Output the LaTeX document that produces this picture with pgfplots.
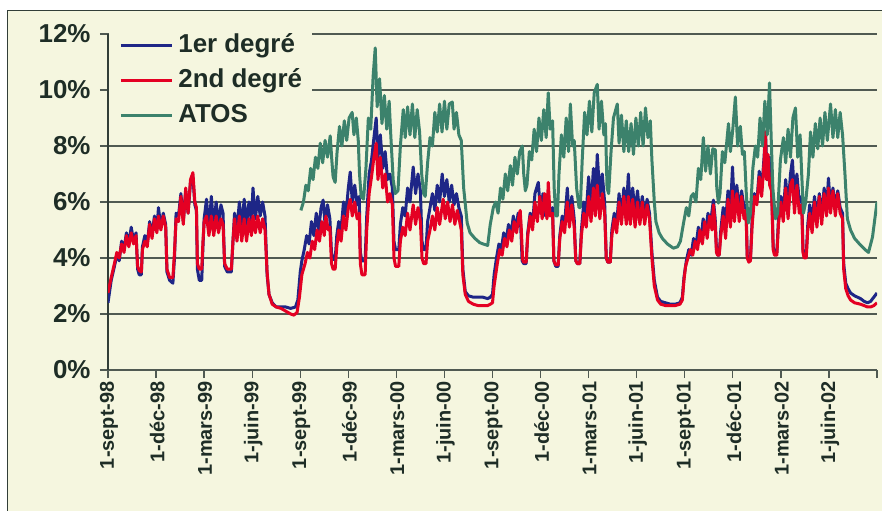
\documentclass[border=0pt]{standalone}
\usepackage{pgfplots}
\pgfplotsset{compat=1.18}
\usepackage{pgfplotstable}
\usepackage{fontspec}
\setmainfont{Liberation Sans}
\definecolor{bg}{RGB}{245,246,223}
\definecolor{cA}{RGB}{30,38,135}
\definecolor{cB}{RGB}{228,0,35}
\definecolor{cC}{RGB}{60,130,108}
\definecolor{txt}{RGB}{30,45,38}
\definecolor{gridc}{RGB}{80,90,82}
\definecolor{framec}{RGB}{50,62,56}

\pgfplotstableread{
x y
0.00 2.4
0.20 3.2
0.40 3.7
0.55 4.1
0.70 3.9
0.85 4.6
1.00 4.3
1.15 4.9
1.30 4.5
1.45 5.1
1.60 4.6
1.75 4.9
1.85 3.6
1.95 3.4
2.08 3.4
2.15 4.4
2.30 4.8
2.45 4.5
2.60 5.3
2.75 4.8
2.90 5.5
3.05 5.0
3.15 5.8
3.30 5.1
3.45 5.6
3.60 5.2
3.68 3.5
3.85 3.2
4.05 3.1
4.15 4.0
4.25 5.6
4.40 5.5
4.55 6.3
4.70 5.3
4.85 6.4
5.00 5.6
5.15 6.7
5.30 6.9
5.42 5.9
5.52 5.7
5.58 3.6
5.70 3.2
5.85 3.2
5.92 4.3
6.00 5.4
6.15 6.1
6.30 5.0
6.45 6.2
6.60 5.1
6.75 6.0
6.90 5.2
7.05 5.9
7.18 5.6
7.28 3.7
7.45 3.5
7.70 3.5
7.80 4.6
7.90 5.6
8.05 5.0
8.20 6.0
8.35 5.1
8.50 6.1
8.65 5.2
8.80 6.0
8.95 5.3
9.05 6.5
9.20 5.4
9.35 6.2
9.50 5.5
9.65 6.0
9.80 5.5
9.93 3.4
10.05 2.7
10.25 2.4
10.50 2.25
10.80 2.25
11.10 2.25
11.40 2.2
11.70 2.25
11.85 2.5
12.00 3.5
12.10 3.9
12.25 4.3
12.40 4.8
12.55 4.5
12.70 5.3
12.85 4.8
13.00 5.6
13.15 5.0
13.30 5.8
13.43 6.07
13.55 5.2
13.70 5.9
13.85 5.4
13.95 4.2
14.05 3.95
14.18 3.95
14.28 4.8
14.40 5.3
14.55 5.0
14.70 6.0
14.85 5.5
15.00 6.5
15.12 7.07
15.25 6.0
15.40 6.6
15.55 5.9
15.68 6.2
15.75 4.2
15.85 3.9
16.05 3.9
16.15 5.5
16.30 7.0
16.45 7.5
16.60 8.3
16.74 9.0
16.85 7.6
17.00 8.4
17.15 7.2
17.30 7.8
17.45 6.8
17.60 7.0
17.75 6.5
17.85 4.6
17.95 4.3
18.15 4.3
18.25 5.2
18.40 5.8
18.55 5.5
18.70 6.5
18.85 6.0
19.05 7.25
19.20 6.3
19.35 7.0
19.50 6.4
19.60 4.6
19.70 4.3
19.85 4.3
19.95 5.3
20.10 5.8
20.25 6.3
20.40 5.7
20.55 6.6
20.70 6.0
20.86 7.0
21.00 6.2
21.15 6.8
21.30 6.0
21.45 6.6
21.60 5.9
21.75 6.3
21.90 5.8
22.05 5.5
22.15 3.6
22.30 2.8
22.50 2.65
22.80 2.6
23.10 2.6
23.40 2.6
23.70 2.55
23.86 2.6
24.00 2.7
24.10 3.4
24.25 4.0
24.40 4.5
24.55 4.3
24.70 4.9
24.85 4.6
25.00 5.2
25.15 4.8
25.30 5.5
25.45 5.0
25.60 5.6
25.75 5.3
25.85 3.9
25.95 3.8
26.10 3.8
26.20 4.9
26.35 5.6
26.50 5.2
26.65 6.3
26.86 6.7
27.00 5.6
27.15 6.3
27.30 5.5
27.45 6.2
27.60 5.6
27.75 5.8
27.83 3.9
27.95 3.7
28.10 3.7
28.20 4.8
28.35 5.5
28.50 5.2
28.67 6.5
28.80 5.3
28.95 6.2
29.10 5.4
29.20 3.9
29.30 3.8
29.45 3.8
29.55 5.0
29.70 6.0
29.85 5.6
30.00 6.9
30.15 5.8
30.30 7.2
30.42 6.0
30.54 7.7
30.70 6.2
30.85 7.0
31.00 6.0
31.10 4.0
31.20 3.85
31.35 3.85
31.45 5.0
31.60 5.6
31.75 5.2
31.90 6.3
32.05 5.5
32.20 6.5
32.35 5.6
32.48 7.0
32.60 5.6
32.75 6.5
32.90 5.6
33.05 6.4
33.20 5.5
33.35 6.2
33.50 5.5
33.65 6.1
33.80 5.6
33.95 4.2
34.10 3.2
34.30 2.6
34.50 2.45
34.80 2.4
35.10 2.35
35.40 2.35
35.70 2.4
35.85 2.6
35.95 3.3
36.10 3.9
36.25 4.3
36.40 4.1
36.55 4.7
36.70 4.4
36.85 5.1
37.00 4.6
37.15 5.4
37.30 4.9
37.45 5.6
37.60 5.2
37.79 6.07
37.90 5.4
37.98 4.3
38.05 4.1
38.15 4.1
38.25 5.0
38.40 5.8
38.55 5.3
38.70 6.4
38.85 5.6
38.98 7.25
39.10 5.8
39.25 6.6
39.40 5.7
39.55 6.4
39.70 5.8
39.82 5.9
39.90 4.1
40.00 3.93
40.10 3.95
40.20 5.3
40.35 6.3
40.50 6.0
40.65 7.1
40.80 6.4
40.95 7.6
41.04 8.5
41.15 6.8
41.30 7.6
41.42 6.6
41.52 4.4
41.60 4.2
41.75 4.2
41.85 5.4
42.00 6.2
42.15 5.6
42.30 6.8
42.45 5.8
42.60 7.0
42.72 7.5
42.85 6.2
43.00 7.0
43.15 6.0
43.30 6.2
43.38 4.3
43.45 4.1
43.58 4.1
43.68 5.2
43.80 5.9
43.95 5.3
44.10 6.2
44.25 5.4
44.40 6.3
44.55 5.5
44.70 6.5
44.85 5.7
44.97 6.85
45.10 5.8
45.25 6.5
45.40 5.8
45.55 6.4
45.70 5.8
45.85 5.6
45.92 3.8
46.05 3.1
46.20 2.9
46.35 2.75
46.60 2.65
46.97 2.55
47.20 2.45
47.41 2.4
47.60 2.45
47.80 2.6
48.00 2.75
}\tblA

\pgfplotstableread{
x y
0.00 2.75
0.20 3.3
0.40 3.8
0.55 4.2
0.70 4.0
0.85 4.5
1.00 4.2
1.15 4.8
1.30 4.4
1.45 4.9
1.60 4.5
1.75 4.8
1.85 3.7
1.95 3.55
2.08 3.5
2.15 4.3
2.30 4.6
2.45 4.4
2.60 5.2
2.75 4.7
2.90 5.4
3.05 4.9
3.15 5.5
3.30 5.0
3.45 5.5
3.60 5.1
3.68 3.6
3.85 3.3
4.05 3.3
4.15 4.2
4.25 5.4
4.40 5.3
4.55 6.2
4.70 5.2
4.85 6.5
5.00 5.6
5.15 6.8
5.30 7.05
5.42 6.0
5.52 5.8
5.58 3.8
5.70 3.6
5.85 3.6
5.92 4.5
6.00 5.3
6.15 5.5
6.30 4.8
6.45 5.5
6.60 4.8
6.75 5.5
6.90 4.9
7.05 5.4
7.18 5.2
7.28 3.8
7.45 3.6
7.70 3.6
7.80 4.6
7.90 5.4
8.05 4.6
8.20 5.5
8.35 4.6
8.50 5.4
8.65 4.6
8.80 5.4
8.95 4.8
9.05 5.5
9.20 4.9
9.35 5.5
9.50 4.9
9.65 5.4
9.80 5.0
9.93 3.5
10.05 2.7
10.25 2.35
10.50 2.25
10.80 2.2
11.10 2.1
11.40 2.0
11.60 1.96
11.80 2.05
11.95 2.6
12.10 3.4
12.30 3.8
12.45 4.2
12.60 4.0
12.75 4.6
12.90 4.3
13.05 5.0
13.20 4.6
13.35 5.3
13.50 4.8
13.60 5.5
13.75 5.0
13.85 5.1
13.95 3.8
14.05 3.6
14.18 3.6
14.28 4.4
14.40 5.0
14.55 4.6
14.70 5.5
14.85 5.0
15.00 5.8
15.12 6.1
15.25 5.5
15.40 6.0
15.55 5.4
15.68 5.6
15.75 3.8
15.85 3.4
16.05 3.4
16.15 5.0
16.30 6.3
16.45 6.9
16.60 7.6
16.74 8.1
16.85 6.8
17.00 7.6
17.15 6.5
17.30 7.0
17.45 6.0
17.60 6.3
17.75 5.9
17.85 4.0
17.95 3.7
18.15 3.7
18.25 4.6
18.40 5.1
18.55 4.8
18.70 5.6
18.85 5.0
19.05 5.9
19.20 5.2
19.35 5.8
19.50 5.3
19.60 4.0
19.70 3.8
19.85 3.8
19.95 4.6
20.10 5.0
20.25 5.5
20.40 5.0
20.55 5.8
20.70 5.2
20.92 6.1
21.05 5.4
21.20 6.0
21.35 5.3
21.50 5.9
21.65 5.2
21.80 5.7
21.95 5.3
22.05 5.0
22.15 3.4
22.30 2.7
22.50 2.45
22.80 2.35
23.10 2.3
23.40 2.3
23.70 2.3
23.86 2.35
24.00 2.4
24.10 3.0
24.30 3.8
24.45 4.3
24.60 4.1
24.75 4.7
24.90 4.4
25.05 5.0
25.20 4.6
25.35 5.3
25.50 4.9
25.65 5.5
25.73 5.7
25.80 5.0
25.88 3.95
25.95 3.85
26.10 3.85
26.20 4.8
26.35 5.5
26.50 5.0
26.65 6.0
26.80 5.3
26.95 6.2
27.10 5.4
27.25 6.3
27.40 5.4
27.48 6.7
27.60 5.5
27.75 5.6
27.83 3.9
27.95 3.75
28.10 3.75
28.20 4.7
28.35 5.3
28.50 4.9
28.67 6.0
28.80 5.1
28.95 5.9
29.10 5.1
29.20 3.9
29.30 3.8
29.45 3.8
29.55 4.8
29.70 5.6
29.85 5.1
30.00 6.2
30.15 5.3
30.30 6.5
30.42 5.5
30.54 6.6
30.70 5.4
30.85 6.3
31.00 5.6
31.10 4.0
31.20 3.85
31.35 3.85
31.45 4.8
31.60 5.4
31.75 4.9
31.90 6.0
32.05 5.2
32.20 6.2
32.35 5.2
32.48 6.2
32.60 5.2
32.75 6.1
32.90 5.1
33.05 6.0
33.20 5.2
33.35 6.0
33.50 5.2
33.65 5.9
33.80 5.4
33.95 4.0
34.10 3.0
34.30 2.5
34.50 2.35
34.80 2.3
35.10 2.3
35.40 2.3
35.70 2.35
35.85 2.5
35.95 3.2
36.05 3.7
36.20 4.0
36.35 4.3
36.50 4.1
36.65 4.6
36.80 4.3
36.95 5.0
37.10 4.5
37.25 5.3
37.40 4.7
37.55 5.5
37.70 5.0
37.79 5.9
37.90 5.2
37.98 4.2
38.05 4.1
38.15 4.1
38.25 4.8
38.40 5.5
38.55 4.7
38.70 6.1
38.85 5.1
38.98 6.4
39.10 5.3
39.25 6.3
39.40 5.3
39.55 6.2
39.70 5.4
39.82 5.7
39.90 4.0
40.00 3.85
40.10 3.9
40.20 5.1
40.35 6.2
40.50 5.9
40.65 6.9
40.80 6.2
40.95 7.4
41.04 8.5
41.10 6.8
41.20 7.7
41.30 6.6
41.42 6.4
41.52 4.3
41.60 4.1
41.75 4.1
41.85 5.2
42.00 6.0
42.15 5.3
42.30 6.5
42.45 5.4
42.60 6.6
42.72 6.8
42.85 5.6
43.00 6.6
43.15 5.6
43.30 5.9
43.38 4.2
43.45 4.0
43.58 4.0
43.68 5.0
43.80 5.6
43.95 4.9
44.10 6.0
44.25 5.1
44.40 6.2
44.55 5.2
44.70 6.3
44.85 5.5
44.97 6.5
45.10 5.6
45.25 6.4
45.40 5.5
45.55 6.3
45.70 5.6
45.85 5.4
45.92 3.6
46.05 2.9
46.20 2.65
46.35 2.5
46.60 2.4
46.97 2.35
47.20 2.3
47.41 2.25
47.60 2.25
47.80 2.3
48.00 2.4
}\tblB

\pgfplotstableread{
x y
12.04 5.7
12.20 6.0
12.35 6.6
12.50 6.4
12.65 7.2
12.80 6.8
12.95 7.6
13.10 7.2
13.25 8.1
13.40 7.4
13.55 8.2
13.70 7.6
13.87 8.36
13.97 7.5
14.05 6.9
14.18 6.7
14.30 7.8
14.45 8.7
14.60 8.0
14.75 8.9
14.90 8.2
15.05 9.0
15.24 9.2
15.35 8.4
15.50 9.0
15.62 8.2
15.70 7.0
15.80 6.2
15.95 6.1
16.10 7.2
16.25 9.0
16.40 8.6
16.55 10.5
16.68 11.5
16.80 9.4
16.95 10.4
17.10 8.8
17.25 9.8
17.40 8.6
17.55 9.6
17.65 8.4
17.80 6.8
17.93 6.3
18.10 6.4
18.25 8.0
18.43 9.3
18.55 8.3
18.70 9.4
18.85 8.4
19.00 9.5
19.15 8.3
19.30 9.3
19.45 8.5
19.58 7.0
19.70 6.3
19.80 6.2
19.95 7.4
20.10 8.3
20.25 8.0
20.40 9.2
20.55 8.5
20.70 9.5
20.85 8.5
21.00 9.6
21.15 8.6
21.30 9.5
21.49 9.57
21.60 8.6
21.75 9.2
21.90 8.4
22.05 8.2
22.20 6.5
22.42 5.25
22.60 4.9
22.90 4.7
23.20 4.55
23.42 4.5
23.70 4.45
23.86 5.2
24.05 5.8
24.20 6.0
24.35 5.6
24.50 6.5
24.65 6.1
24.80 7.0
24.95 6.4
25.11 7.3
25.25 6.6
25.40 7.6
25.55 7.0
25.70 7.8
25.86 8.0
25.95 7.0
26.05 6.4
26.15 6.6
26.30 7.8
26.45 7.5
26.60 8.6
26.75 7.8
26.90 9.0
27.05 8.2
27.20 9.3
27.35 8.3
27.48 9.9
27.60 8.6
27.75 8.9
27.85 6.5
27.95 5.5
28.05 5.5
28.15 7.0
28.30 8.4
28.45 7.6
28.60 9.0
28.75 7.8
28.86 9.5
29.00 8.0
29.10 8.2
29.25 6.5
29.40 5.8
29.48 5.8
29.60 7.5
29.75 9.2
29.90 8.4
30.05 9.6
30.20 8.5
30.35 9.9
30.54 10.2
30.65 8.6
30.80 9.6
30.95 8.4
31.05 8.8
31.15 6.5
31.25 6.3
31.40 7.8
31.55 9.0
31.79 9.5
31.90 8.1
32.05 9.1
32.20 7.8
32.35 8.9
32.50 7.8
32.65 8.8
32.80 7.7
32.95 9.0
33.10 8.0
33.25 9.2
33.40 8.0
33.55 9.36
33.70 8.3
33.85 8.9
33.95 7.5
34.10 6.0
34.20 5.3
34.40 4.9
34.60 4.7
34.92 4.5
35.29 4.35
35.55 4.4
35.73 4.6
35.91 5.2
36.10 5.8
36.25 5.5
36.40 6.2
36.54 6.3
36.70 6.0
36.85 7.2
37.00 6.8
37.16 8.3
37.30 7.1
37.45 8.0
37.60 7.0
37.75 7.9
37.91 7.86
38.00 6.5
38.10 5.96
38.20 6.3
38.35 7.8
38.50 7.4
38.73 8.8
38.85 7.8
39.00 8.6
39.16 9.75
39.30 8.0
39.47 8.7
39.60 7.7
39.72 7.8
39.85 6.2
39.98 5.25
40.10 5.6
40.25 7.2
40.41 8.0
40.55 7.6
40.70 9.0
40.85 8.0
41.00 9.6
41.15 8.4
41.29 10.25
41.40 8.2
41.50 6.5
41.66 5.4
41.80 5.6
41.97 7.5
42.16 8.3
42.30 7.4
42.45 8.6
42.60 7.6
42.75 9.0
42.91 9.36
43.05 7.6
43.20 8.4
43.30 7.0
43.41 5.6
43.55 6.0
43.72 7.0
43.85 8.5
44.00 7.6
44.15 8.8
44.30 7.9
44.45 9.0
44.60 8.0
44.75 9.2
44.90 8.2
45.10 9.5
45.25 8.3
45.40 9.3
45.55 8.3
45.70 9.2
45.85 8.4
46.00 7.0
46.15 5.4
46.35 5.0
46.60 4.7
46.97 4.46
47.25 4.3
47.47 4.2
47.72 4.75
48.00 6.0
}\tblC

\begin{document}
\begin{tikzpicture}
\useasboundingbox (0,0) rectangle (882bp,511bp);
\fill[white] (0,0) rectangle (882bp,511bp);
\fill[bg] (7.5bp,0) rectangle (882bp,500.5bp);
\draw[framec, line width=1.6bp] (7.5bp,0) -- (7.5bp,500.5bp) -- (882bp,500.5bp);
\begin{axis}[
  at={(108bp,141bp)}, anchor=south west,
  scale only axis, width=769bp, height=336bp,
  xmin=0, xmax=48, ymin=0, ymax=12,
  axis x line=bottom, axis y line=left,
  x axis line style={-, draw=gridc, line width=1.3bp},
  y axis line style={-, draw=framec, line width=1.3bp},
  tick align=outside, major tick length=8bp,
  every tick/.style={draw=gridc, line width=1.3bp},
  ymajorgrids, grid style={draw=gridc, line width=1.2bp},
  ytick={0,2,4,6,8,10,12},
  yticklabels={0\%,2\%,4\%,6\%,8\%,10\%,12\%},
  xtick={0,3,6,9,12,15,18,21,24,27,30,33,36,39,42,45,48},
  xticklabels={1-sept-98,1-déc-98,1-mars-99,1-juin-99,1-sept-99,1-déc-99,1-mars-00,1-juin-00,1-sept-00,1-déc-00,1-mars-01,1-juin-01,1-sept-01,1-déc-01,1-mars-02,1-juin-02,{}},
  yticklabel style={font=\bfseries\fontsize{26}{30}\selectfont, text=txt, xshift=-6bp},
  xticklabel style={font=\bfseries\fontsize{20}{24}\selectfont, text=txt, rotate=90, anchor=east, yshift=-1bp},
  legend style={at={(rel axis cs:0.0015,1.015)}, anchor=north west, draw=none, fill=bg,
     font=\bfseries\fontsize{26}{30}\selectfont, text=txt,
     inner xsep=10bp, inner ysep=3bp, row sep=9bp, column sep=5bp,
     nodes={inner sep=0pt, text height=20bp, text depth=6bp}},
  legend cell align=left,
  legend image code/.code={\draw[#1] (0bp,0bp) -- (51bp,0bp);},
  every axis plot/.append style={line width=3bp, line join=round},
]
\addplot[cA] table {\tblA};
\addlegendentry{1er degré}
\addplot[cB] table {\tblB};
\addlegendentry{2nd degré}
\addplot[cC] table {\tblC};
\addlegendentry{ATOS}
\end{axis}
\end{tikzpicture}
\end{document}
